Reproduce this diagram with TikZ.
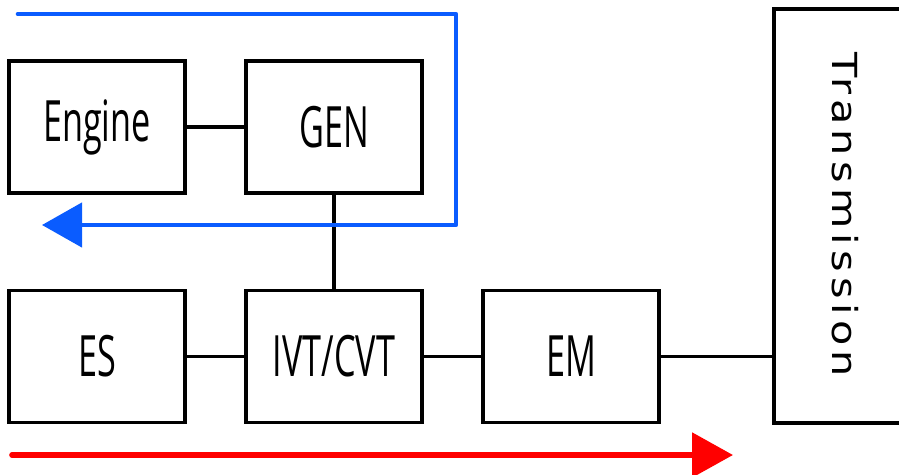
\documentclass[tikz,border=0pt]{standalone}
\usepackage{fontspec}
\usepackage{tikz}
\usetikzlibrary{positioning,arrows.meta}
\newfontfamily\boxfont[FakeStretch=0.6]{Open Sans}
\newfontfamily\transfont[FakeStretch=1.2, LetterSpace=15]{DejaVu Sans}
\definecolor{pathblue}{HTML}{0A5CFF}
\definecolor{pathred}{HTML}{FF0000}

\begin{document}
\begin{tikzpicture}[x=1pt, y=-1pt,
  blk/.style={draw=black, line width=3.3pt, fill=white, minimum width=176pt, minimum height=132pt, inner sep=0pt, font=\boxfont\fontsize{57}{60}\selectfont},
  link/.style={draw=black, line width=3.3pt},
  blueflow/.style={draw=pathblue, line width=4.6pt, line join=round, line cap=round, -{Triangle[length=40pt, width=44pt]}},
  redflow/.style={draw=pathred, line width=5.6pt, line cap=round, -{Triangle[length=41pt, width=44pt]}}]
\useasboundingbox (0,0) rectangle (899,474);
\clip (0,0) rectangle (899,474);
% ===== top row =====
\node[blk] (engine) at (97,127) {Engine};
\node[blk] (gen) at (334,127) {GEN};
% ===== bottom row =====
\node[blk] (es) at (97,356.5) {ES};
\node[blk] (ivt) at (334,356.5) {IVT/CVT};
\node[blk] (em) at (571,356.5) {EM};
\node[blk, minimum width=142pt, minimum height=414pt] (trans) at (845,216) {};
\node[font=\transfont\fontsize{34.5}{38}\selectfont, rotate=-90] (translabel) at (845,215) {Transmission};
% ===== shafts =====
\draw[link] (engine) -- (gen);
\draw[link] (gen) -- (ivt);
\draw[link] (es) -- (ivt);
\draw[link] (ivt) -- (em);
\draw[link] (em.east) -- (em.east -| trans.west);
% ===== power flows =====
\coordinate (bstart) at (18,14);
\coordinate (bturn1) at (456,14);
\coordinate (bturn2) at (456,225);
\coordinate (bend) at (42,225);
\draw[blueflow] (bstart) -- (bturn1) -- (bturn2) -- (bend);
\coordinate (rstart) at (12,455);
\coordinate (rend) at (733,455);
\draw[redflow] (rstart) -- (rend);
\end{tikzpicture}
\end{document}
